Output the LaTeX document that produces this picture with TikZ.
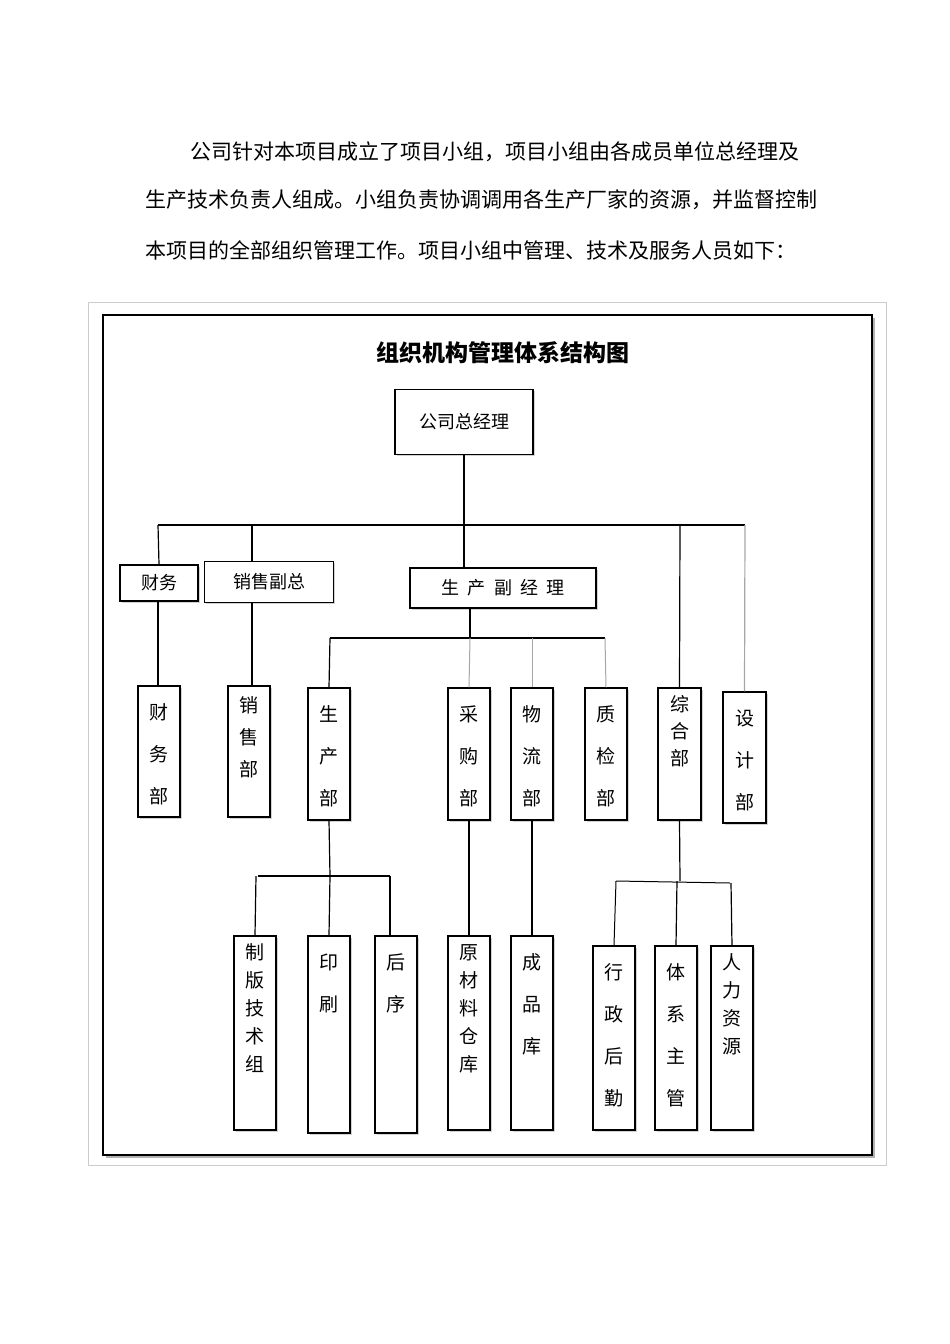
\documentclass[tikz,border=0pt]{standalone}
\usepackage{fontspec}
\setmainfont{Noto Sans CJK SC}
\usetikzlibrary{shadows}
\tikzset{bx/.style={draw,line width=1.1pt,fill=white,inner sep=0pt,drop shadow={shadow xshift=1.5pt,shadow yshift=-1.5pt,fill=gray!70}},
ln/.style={line width=1.2pt},
vt/.style={anchor=north,align=center,inner sep=0pt}}
\begin{document}
\begin{tikzpicture}[x=1pt,y=-1pt]
\useasboundingbox (0,0) rectangle (950,1344);
\fill[white] (0,0) rectangle (950,1344);
\begin{scope}[font=\fontsize{21}{21}\selectfont]
\node[anchor=west,inner sep=0pt] (p1) at (190,152) {公司针对本项目成立了项目小组，项目小组由各成员单位总经理及};
\node[anchor=west,inner sep=0pt] (p2) at (145,200) {生产技术负责人组成。小组负责协调调用各生产厂家的资源，并监督控制};
\node[anchor=west,inner sep=0pt] (p3) at (145,250) {本项目的全部组织管理工作。项目小组中管理、技术及服务人员如下：};
\end{scope}
\draw[gray!40] (88,302) rectangle (886,1165);
\fill[gray!60] (106,318) rectangle (875,1158);
\draw[line width=2pt,fill=white] (103,315) rectangle (872,1155);
\node[font=\bfseries\fontsize{23}{23}\selectfont] (title) at (503,353) {组织机构管理体系结构图};
\node[bx,minimum width=138,minimum height=65,font=\fontsize{18}{18}\selectfont] (gm) at (464,422) {公司总经理};
\node[bx,minimum width=78,minimum height=36,font=\fontsize{18}{18}\selectfont] (cw) at (159,583) {财务};
\node[bx,minimum width=129,minimum height=41,font=\fontsize{18}{18}\selectfont] (xs) at (269,582) {销售副总};
\node[bx,minimum width=186,minimum height=40,font=\fontsize{18}{18}\selectfont] (sc) at (503,588) {生\ \ 产\ \ 副\ \ 经\ \ 理};
\newcommand\bxv[7]{\node[bx,minimum width=#4-#2,minimum height=#5-#3] (#1) at ({(#2+#4)/2},{(#3+#5)/2}) {};\node[vt,font=\fontsize{19}{#7}\selectfont] (#1t) at ({(#2+#4)/2},#3+4) {\begin{tabular}{@{}c@{}}#6\end{tabular}};}
\bxv{cwb}{138}{686}{180}{817}{财\\务\\部}{42}
\bxv{xsb}{228}{686}{270}{817}{销\\售\\部}{32}
\bxv{scb}{308}{688}{350}{820}{生\\产\\部}{42}
\bxv{cgb}{448}{688}{490}{820}{采\\购\\部}{42}
\bxv{wlb}{511}{688}{553}{820}{物\\流\\部}{42}
\bxv{zjb}{585}{688}{627}{820}{质\\检\\部}{42}
\bxv{zhb}{658}{688}{701}{820}{综\\合\\部}{27}
\bxv{sjb}{723}{692}{766}{823}{设\\计\\部}{42}
\bxv{zb}{234}{936}{276}{1130}{制\\版\\技\\术\\组}{28}
\bxv{ys}{308}{936}{350}{1133}{印\\刷}{42}
\bxv{hx}{375}{936}{417}{1133}{后\\序}{42}
\bxv{ycl}{448}{936}{490}{1130}{原\\材\\料\\仓\\库}{28}
\bxv{cpk}{511}{936}{553}{1130}{成\\品\\库}{42}
\bxv{xz}{593}{946}{635}{1130}{行\\政\\后\\勤}{42}
\bxv{tx}{655}{946}{697}{1130}{体\\系\\主\\管}{42}
\bxv{rl}{711}{946}{753}{1130}{人\\力\\资\\源}{28}
\draw[ln] (gm.south) -- (gm.south |- sc.north);
\draw[ln] (158,525) -- (745,525);
\draw[ln] (158,525) -- (cw.north);
\draw[ln] (252,525) -- (252,561);
\draw[ln] (680,525) -- (zhb.north);
\draw[ln,gray!70] (745,525) -- (sjb.north);
\draw[ln] (158,601) -- (158,686);
\draw[ln] (252,603) -- (252,686);
\draw[ln] (470,608) -- (470,638);
\draw[ln] (330,638) -- (605,638);
\draw[ln] (330,638) -- (scb.north);
\draw[gray!70,line width=1pt] (470,638) -- (cgb.north);
\draw[gray!70,line width=1pt] (532,638) -- (wlb.north);
\draw[gray!70,line width=1pt] (605,638) -- (zjb.north);
\draw[ln] (scb.south) -- (330,876);
\draw[ln] (258,876) -- (390,876);
\draw[ln] (256,876) -- (zb.north);
\draw[ln] (330,876) -- (ys.north);
\draw[ln] (390,876) -- (390,936);
\draw[ln] (cgb.south) -- (ycl.north);
\draw[ln] (wlb.south) -- (cpk.north);
\draw[ln] (zhb.south) -- (680,881);
\draw[line width=1pt] (616,881) -- (730,883);
\draw[line width=1pt] (616,881) -- (xz.north);
\draw[ln] (677,881) -- (tx.north);
\draw[ln] (731,883) -- (rl.north);
\end{tikzpicture}
\end{document}
